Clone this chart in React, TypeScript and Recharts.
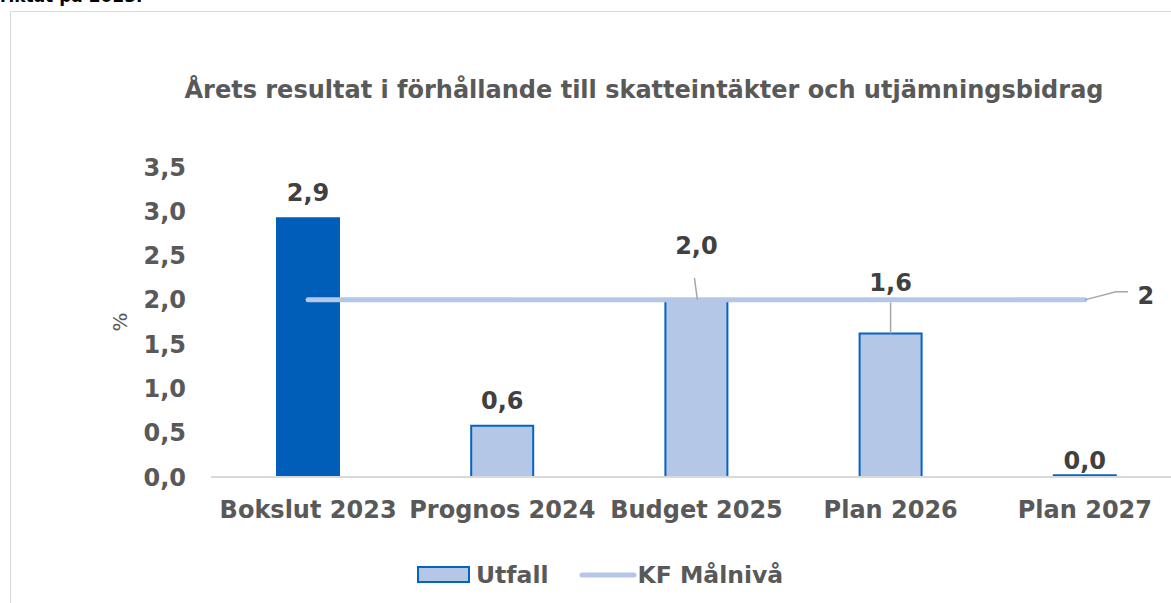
import React from "react";
import {
  ComposedChart, Bar, Line, XAxis, YAxis, Cell, LabelList, Label,
} from "recharts";

const categories = ["Bokslut 2023", "Prognos 2024", "Budget 2025", "Plan 2026", "Plan 2027"];
const utfall = [2.92, 0.58, 2.0, 1.62, 0.02];
const utfallLabels = ["2,9", "0,6", "2,0", "1,6", "0,0"];
const malniva = [2, 2, 2, 2, 2];
const yTicks = [0, 0.5, 1, 1.5, 2, 2.5, 3, 3.5];

const data = categories.map((name, i) => ({
  name,
  utfall: utfall[i],
  label: utfallLabels[i],
  malniva: malniva[i],
}));

const FONT = "'DejaVu Sans', Verdana, sans-serif";
const AXIS_GRAY = "#595959";
const LABEL_GRAY = "#404040";
const DARK_BLUE = "#005EB8";
const LIGHT_BLUE = "#B4C7E7";
const EDGE_BLUE = "#0563C1";
const FS = 24;

const fmt = (v: number) => v.toFixed(1).replace(".", ",");

// labels above bars; the ones that collide with the target line get lifted with a leader
const BarLabel = (props: any) => {
  const { x, y, width, index } = props;
  const cx = x + width / 2;
  const text = utfallLabels[index];
  const style = { fontFamily: FONT, fontWeight: 700, fontSize: FS, fill: LABEL_GRAY };
  if (index === 2) {
    return (
      <g>
        <line x1={cx - 2} y1={y - 22} x2={cx + 1} y2={y} stroke="#a6a6a6" strokeWidth={1.5} />
        <text x={cx} y={y - 54} textAnchor="middle" dominantBaseline="central" style={style}>{text}</text>
      </g>
    );
  }
  if (index === 3) {
    return (
      <g>
        <line x1={cx} y1={y - 31} x2={cx} y2={y} stroke="#a6a6a6" strokeWidth={1.5} />
        <text x={cx} y={y - 51} textAnchor="middle" dominantBaseline="central" style={style}>{text}</text>
      </g>
    );
  }
  const off = index === 4 ? 14 : 25;
  return (
    <text x={cx} y={y - off} textAnchor="middle" dominantBaseline="central" style={style}>{text}</text>
  );
};

const LineLabel = (props: any) => {
  const { x, y, index, value } = props;
  if (index !== categories.length - 1) return null;
  return (
    <g>
      <polyline
        points={`${x},${y} ${x + 31},${y - 8} ${x + 43},${y - 8}`}
        fill="none" stroke="#a6a6a6" strokeWidth={1.5}
      />
      <text x={x + 61} y={y - 4} textAnchor="middle" dominantBaseline="central"
        style={{ fontFamily: FONT, fontWeight: 700, fontSize: FS, fill: LABEL_GRAY }}>
        {String(value)}
      </text>
    </g>
  );
};

const ChartLegend = () => (
  <div style={{ position: "absolute", left: 417, top: 561, display: "flex", alignItems: "center", fontFamily: FONT, fontWeight: 700, fontSize: 23.5, color: AXIS_GRAY, lineHeight: "28px" }}>
    <svg width={54} height={18} style={{ marginRight: 5 }}>
      <rect x={1} y={1} width={51} height={15} fill={LIGHT_BLUE} stroke={EDGE_BLUE} strokeWidth={2} />
    </svg>
    <span style={{ marginRight: 30 }}>Utfall</span>
    <svg width={58} height={18} style={{ marginRight: 1 }}>
      <line x1={3} y1={9} x2={55} y2={9} stroke={LIGHT_BLUE} strokeWidth={5} strokeLinecap="round" />
    </svg>
    <span>KF Målnivå</span>
  </div>
);

export default function App() {
  return (
    <div style={{ position: "absolute", left: 0, top: 0, width: 1171, height: 603, overflow: "hidden", background: "#fff" }}>
      <div style={{ position: "absolute", left: 0, top: -14, fontFamily: "Verdana, 'DejaVu Sans', sans-serif", fontSize: 17, fontWeight: 700, color: "#000" }}>
        riktat på 2025.
      </div>
      <div style={{ position: "absolute", left: 10, top: 11, width: 1200, height: 640, border: "1.5px solid #d9d9d9" }} />
      <div style={{ position: "absolute", left: 0, top: 0 }}>
        <ComposedChart
          width={1200}
          height={603}
          data={data}
          margin={{ top: 167, right: 18, bottom: 96, left: 0 }}
          barCategoryGap={0}
        >
          <text x={644} y={90} textAnchor="middle" dominantBaseline="central"
            style={{ fontFamily: FONT, fontWeight: 700, fontSize: 24, fill: AXIS_GRAY }}>
            Årets resultat i förhållande till skatteintäkter och utjämningsbidrag
          </text>
          <XAxis
            dataKey="name"
            height={30}
            axisLine={{ stroke: "#d9d9d9", strokeWidth: 2 }}
            tickLine={false}
            tickSize={0}
            tickMargin={24}
            interval={0}
            tick={{ fontFamily: FONT, fontWeight: 700, fontSize: FS, fill: AXIS_GRAY }}
          />
          <YAxis
            width={211}
            domain={[0, 3.5]}
            ticks={yTicks}
            tickFormatter={fmt}
            axisLine={false}
            tickLine={false}
            tickSize={0}
            tickMargin={25}
            tick={{ fontFamily: FONT, fontWeight: 700, fontSize: FS, fill: AXIS_GRAY }}
          >
            <Label
              content={({ viewBox }: any) => (
                <text x={120} y={viewBox.y + viewBox.height / 2} textAnchor="middle" dominantBaseline="central"
                  transform={`rotate(-90, 120, ${viewBox.y + viewBox.height / 2})`}
                  style={{ fontFamily: FONT, fontSize: 20, fill: AXIS_GRAY }}>
                  %
                </text>
              )}
            />
          </YAxis>
          <Bar dataKey="utfall" name="Utfall" barSize={62} fill={LIGHT_BLUE} stroke={EDGE_BLUE} strokeWidth={2} isAnimationActive={false}>
            {data.map((d, i) => (
              <Cell key={d.name} fill={i === 0 ? DARK_BLUE : LIGHT_BLUE} stroke={i === 0 ? DARK_BLUE : EDGE_BLUE} />
            ))}
            <LabelList dataKey="label" content={BarLabel} />
          </Bar>
          <Line
            dataKey="malniva"
            name="KF Målnivå"
            stroke={LIGHT_BLUE}
            strokeWidth={5}
            strokeLinecap="round"
            dot={false}
            activeDot={false}
            isAnimationActive={false}
          >
            <LabelList dataKey="malniva" content={LineLabel} />
          </Line>
        </ComposedChart>
      </div>
      <ChartLegend />
    </div>
  );
}
